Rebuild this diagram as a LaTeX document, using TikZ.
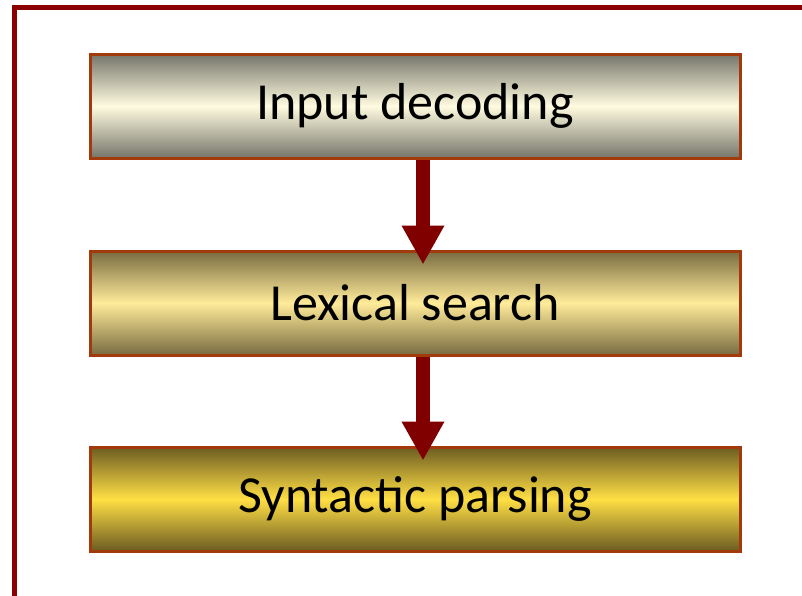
\documentclass[tikz,border=0pt]{standalone}
\usepackage{fontspec}
\setmainfont{Carlito}
\usetikzlibrary{arrows.meta}
\definecolor{frameRed}{HTML}{8B0000}
\definecolor{arrowRed}{HTML}{800000}
\definecolor{boxEdge}{HTML}{A33A0C}
\definecolor{gA}{HTML}{75756A}
\definecolor{mA}{HTML}{FFFBE0}
\definecolor{gB}{HTML}{786B40}
\definecolor{mB}{HTML}{FFEB9A}
\definecolor{gC}{HTML}{6C5C22}
\definecolor{mC}{HTML}{FFDF44}
\pgfdeclareverticalshading{shA}{100bp}{color(0bp)=(gA); color(25bp)=(gA); color(50bp)=(mA); color(75bp)=(gA); color(100bp)=(gA)}
\pgfdeclareverticalshading{shB}{100bp}{color(0bp)=(gB); color(25bp)=(gB); color(50bp)=(mB); color(75bp)=(gB); color(100bp)=(gB)}
\pgfdeclareverticalshading{shC}{100bp}{color(0bp)=(gC); color(25bp)=(gC); color(50bp)=(mC); color(75bp)=(gC); color(100bp)=(gC)}
\tikzset{
  stagebox/.style={draw=boxEdge, line width=3pt, minimum width=650pt, minimum height=104pt,
    inner sep=0pt, font=\fontsize{52}{60}\selectfont, text=black},
  flowarrow/.style={draw=arrowRed, line width=14pt, -{Triangle[width=40pt,length=39pt]}}
}
\begin{document}
\begin{tikzpicture}[x=1pt,y=-1pt]
\useasboundingbox (0,0) rectangle (802,595);
\draw[frameRed, line width=5.5pt] (14.5,600) -- (14.5,7.5) -- (810,7.5);
\node[stagebox, shading=shA] (a) at (415,106) {Input decoding};
\node[stagebox, shading=shB] (b) at (415,303) {Lexical search};
\node[stagebox, shading=shC] (c) at (415,499) {Syntactic parsing};
\draw[flowarrow] ([xshift=8pt]a.south) -- ([xshift=8pt,yshift=-15pt]b.north);
\draw[flowarrow] ([xshift=8pt]b.south) -- ([xshift=8pt,yshift=-15pt]c.north);
\end{tikzpicture}
\end{document}
